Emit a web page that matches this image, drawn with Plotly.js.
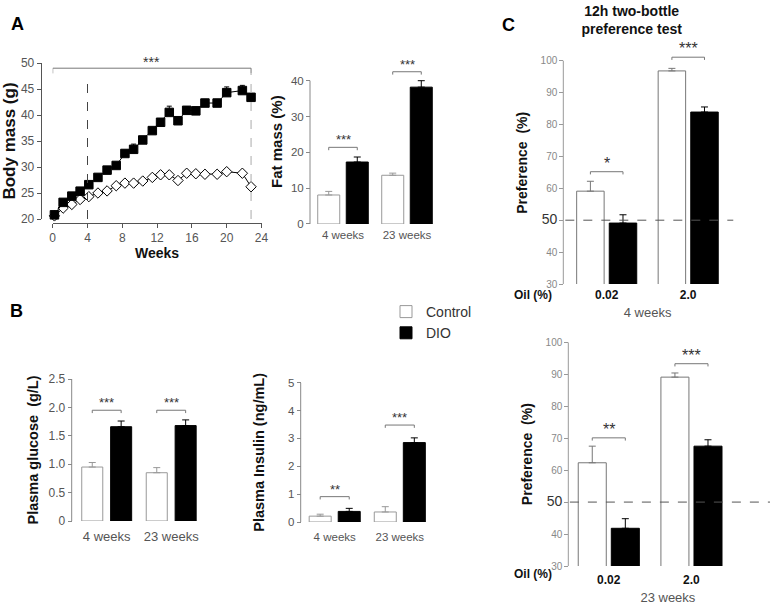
<!DOCTYPE html>
<html><head><meta charset="utf-8">
<script src="https://cdn.plot.ly/plotly-3.0.1.min.js"></script>
<style>html,body{margin:0;padding:0;background:#fff}</style>
</head><body><div id="chart" style="width:770px;height:605px"></div>
<script>
const W = 770, H = 605;
const FONT = 'Liberation Sans, Arial, Helvetica, sans-serif';

// ---------- Panel A: body mass time course ----------
const weeks = [0.2, 1.2, 2.2, 3.15, 4.15, 5.2, 6.25, 7.3, 8.3, 9.3, 10.35, 11.45, 12.4, 13.4, 14.4, 15.4, 16.45, 17.5, 18.9, 20.0, 21.8, 22.8];
const bodyControl = [20.6, 22.1, 22.8, 23.75, 24.3, 25.0, 25.4, 26.4, 26.9, 26.9, 27.3, 28.0, 28.5, 28.5, 27.4, 28.8, 28.7, 28.6, 28.6, 29.1, 28.8, 26.2];
const bodyControlErr = [0.3, 0.3, 0.3, 0.3, 0.3, 0.3, 0.3, 0.3, 0.3, 0.3, 0.3, 0.3, 0.3, 0.3, 0.3, 0.3, 0.3, 0.3, 0.3, 0.3, 0.3, 0.3];
const bodyDIO = [20.8, 23.2, 24.4, 25.35, 26.6, 28.0, 29.4, 30.3, 32.6, 33.4, 35.2, 37.0, 38.6, 40.5, 38.9, 40.9, 40.8, 42.3, 42.3, 44.3, 44.7, 43.4];
const bodyDIOErr = [0.3, 0.4, 0.4, 0.4, 0.4, 0.4, 0.5, 0.5, 0.6, 1.0, 0.6, 0.6, 0.6, 1.2, 0.7, 0.7, 0.7, 0.7, 0.7, 1.1, 1.0, 0.7];
const bodyTicksX = [0, 4, 8, 12, 16, 20, 24];
const bodyTicksY = [20, 25, 30, 35, 40, 45, 50];
const bodySigSpan = [0, 22.8];
const bodySigY = 49.0;
const bodySigLabel = '***';
const markerWeeks = [4, 22.8];
const markerTops = [46.7, 48.0];

// ---------- Panel A: fat mass ----------
const ageGroups = ['4 weeks', '23 weeks'];
const fatControl = [8.1, 13.6];
const fatControlErr = [1.0, 0.6];
const fatDIO = [17.3, 38.2];
const fatDIOErr = [1.4, 1.8];
const fatSigY = [21.4, 42.5];
const fatSigLabels = ['***', '***'];
const fatTicks = [0, 10, 20, 30, 40];

// ---------- Panel B: plasma glucose ----------
const glucoseControl = [0.95, 0.85];
const glucoseControlErr = [0.08, 0.09];
const glucoseDIO = [1.66, 1.68];
const glucoseDIOErr = [0.10, 0.10];
const glucoseSigY = [1.95, 1.95];
const glucoseSigLabels = ['***', '***'];
const glucoseTicks = [0, 0.5, 1.0, 1.5, 2.0, 2.5];
const glucoseTickText = ['0', '0.5', '1.0', '1.5', '2.0', '2.5'];

// ---------- Panel B: plasma insulin ----------
const insulinControl = [0.21, 0.36];
const insulinControlErr = [0.07, 0.19];
const insulinDIO = [0.38, 2.85];
const insulinDIOErr = [0.11, 0.17];
const insulinSigY = [0.91, 3.48];
const insulinSigLabels = ['**', '***'];
const insulinTicks = [0, 1, 2, 3, 4, 5];

// ---------- Panel C: preference tests ----------
const oilGroups = ['0.02', '2.0'];
const pref4Control = [59.1, 96.8];
const pref4ControlErr = [3.1, 0.8];
const pref4DIO = [49.1, 83.9];
const pref4DIOErr = [2.6, 1.6];
const pref4SigY = [65.2, 101.1];
const pref4SigLabels = ['*', '***'];
const pref23Control = [62.3, 89.1];
const pref23ControlErr = [5.2, 1.3];
const pref23DIO = [41.8, 67.5];
const pref23DIOErr = [3.0, 2.0];
const pref23SigY = [70.1, 93.3];
const pref23SigLabels = ['**', '***'];
const prefTicks = [30, 40, 50, 60, 70, 80, 90, 100];
const prefTickText = prefTicks.map(v => v === 50 ? '<span style="font-size:14px;color:#333">50</span>' : String(v));

// ---------- helpers (layout geometry) ----------
function xDomain(c0px, c1px, range) {
  const s = c1px - c0px;
  return [(c0px + range[0] * s) / W, (c0px + range[1] * s) / W];
}
function yDomain(v0, py0, v1, py1, range) {
  const s = (py0 - py1) / (v1 - v0);
  const pyLo = py0 - (range[0] - v0) * s;
  const pyHi = py0 - (range[1] - v0) * s;
  return [1 - pyLo / H, 1 - pyHi / H];
}

const data = [];
const shapes = [];
const annotations = [];
const layout = {
  width: W, height: H,
  margin: {l: 0, r: 0, t: 0, b: 0},
  paper_bgcolor: '#fff', plot_bgcolor: 'rgba(0,0,0,0)',
  font: {family: FONT, color: '#222'},
  barmode: 'overlay',
  hovermode: false,
  showlegend: true,
  legend: {x: 386 / W, y: 1 - 296 / H, xanchor: 'left', yanchor: 'top',
           font: {family: FONT, size: 14, color: '#333'}, bgcolor: 'rgba(0,0,0,0)',
           traceorder: 'normal', itemwidth: 30},
  title: {text: '<b>12h two-bottle<br>preference test</b>', x: 631.7 / W, xanchor: 'center', xref: 'paper',
          y: 1 - 16 / H, yref: 'container', yanchor: 'middle',
          font: {family: FONT, size: 14, color: '#111'}},
  shapes: shapes,
  annotations: annotations
};

function barPanel(n, cats, ctrl, ctrlErr, dio, dioErr, sigY, sigLabels, cfg) {
  const xs = cats.map((_, i) => i);
  const xa = 'x' + n, ya = 'y' + n;
  data.push({
    type: 'bar', name: 'Control', legendgroup: 'ctrl', showlegend: !!cfg.legend,
    x: xs, y: ctrl, width: cfg.w, offset: -cfg.off - cfg.w / 2,
    marker: {color: '#fff', line: {color: cfg.ctrlLine, width: 1}},
    error_y: {type: 'data', array: ctrlErr, arrayminus: ctrl.map(() => 0), symmetric: false,
              color: cfg.ctrlLine, thickness: 1, width: 3.5},
    xaxis: xa, yaxis: ya
  });
  data.push({
    type: 'bar', name: 'DIO', legendgroup: 'dio', showlegend: !!cfg.legend,
    x: xs, y: dio, width: cfg.w, offset: cfg.off - cfg.w / 2,
    marker: {color: '#000', line: {color: '#000', width: 1}},
    error_y: {type: 'data', array: dioErr, arrayminus: dio.map(() => 0), symmetric: false,
              color: '#000', thickness: 1, width: 3.5},
    xaxis: xa, yaxis: ya
  });
  xs.forEach((x, i) => {
    const a = x - cfg.off, b = x + cfg.off, h = sigY[i];
    data.push({
      type: 'scatter', mode: 'lines', showlegend: false, hoverinfo: 'skip',
      x: [a, a, b, b], y: [h - cfg.drop, h, h, h - cfg.drop],
      line: {color: '#777', width: 1}, xaxis: xa, yaxis: ya
    });
    annotations.push({
      xref: xa, yref: ya, x: x, y: h, yanchor: 'bottom', yshift: -2, showarrow: false,
      text: sigLabels[i], font: {family: FONT, size: cfg.starSize, color: '#333'}
    });
  });
  const yr = cfg.yr;
  layout['xaxis' + n] = {
    domain: xDomain(cfg.c0, cfg.c1, cfg.xr), range: cfg.xr, anchor: ya,
    tickvals: xs, ticktext: cats, showline: false, ticks: '', showgrid: false, zeroline: false,
    tickfont: cfg.xtickfont, ticklabelstandoff: cfg.xstand,
    title: cfg.xtitle ? {text: cfg.xtitle, font: {family: FONT, size: 13, color: '#555'}, standoff: 6} : {text: ''}
  };
  layout['yaxis' + n] = {
    domain: yDomain(cfg.v0, cfg.py0, cfg.v1, cfg.py1, yr), range: yr,
    anchor: 'free', position: cfg.axisPx / W,
    showline: false, ticks: 'outside', ticklen: 4, tickcolor: cfg.axisColor, tickwidth: 1,
    tickvals: cfg.tickvals, ticktext: cfg.ticktext, tickfont: cfg.ytickfont,
    showgrid: false, zeroline: false, automargin: false,
    title: {text: cfg.ytitle, font: {family: FONT, size: cfg.ytitleSize, color: '#111', weight: 'bold'}, standoff: cfg.ystand}
  };
  shapes.push({type: 'line', xref: 'paper', x0: cfg.axisPx / W, x1: cfg.axisPx / W,
               yref: ya, y0: cfg.tickvals[0], y1: cfg.tickvals[cfg.tickvals.length - 1],
               line: {color: cfg.axisColor, width: 1}});
}

// ---------- Panel A line chart ----------
data.push({
  type: 'scatter', mode: 'lines+markers', name: 'Control', showlegend: false, cliponaxis: false,
  x: weeks, y: bodyControl,
  line: {color: '#000', width: 1},
  marker: {symbol: 'diamond', size: 8, color: '#fff', line: {color: '#000', width: 1}},
  error_y: {type: 'data', array: bodyControlErr, arrayminus: bodyControl.map(() => 0), symmetric: false, color: '#000', thickness: 1, width: 2.5},
  xaxis: 'x', yaxis: 'y'
});
data.push({
  type: 'scatter', mode: 'lines+markers', name: 'DIO', showlegend: false, cliponaxis: false,
  x: weeks, y: bodyDIO,
  line: {color: '#000', width: 1},
  marker: {symbol: 'square', size: 8.5, color: '#000', line: {color: '#000', width: 1}},
  error_y: {type: 'data', array: bodyDIOErr, arrayminus: bodyDIO.map(() => 0), symmetric: false, color: '#000', thickness: 1, width: 2.5},
  xaxis: 'x', yaxis: 'y'
});
data.push({
  type: 'scatter', mode: 'lines', showlegend: false, hoverinfo: 'skip',
  x: [bodySigSpan[0], bodySigSpan[0], bodySigSpan[1], bodySigSpan[1]],
  y: [bodySigY - 1, bodySigY, bodySigY, bodySigY - 1],
  line: {color: '#777', width: 1}, xaxis: 'x', yaxis: 'y'
});
annotations.push({xref: 'x', yref: 'y', x: (bodySigSpan[0] + bodySigSpan[1]) / 2, y: bodySigY,
  yanchor: 'bottom', yshift: -4, showarrow: false, text: bodySigLabel,
  font: {family: FONT, size: 14, color: '#333'}});
markerWeeks.forEach((wk, i) => {
  shapes.push({type: 'line', xref: 'x', yref: 'y', x0: wk, x1: wk, y0: 20, y1: markerTops[i],
    line: {color: i === 0 ? '#444' : '#aaa', width: 1, dash: 'dash'}});
});
layout.xaxis = {
  domain: [52.7 / W, (52.7 + 24 * 8.7) / W], range: [0, 24], anchor: 'free', position: 1 - 222.7 / H,
  showline: true, linecolor: '#555', linewidth: 1, ticks: 'outside', ticklen: 4, tickcolor: '#555',
  tickvals: bodyTicksX, showgrid: false, zeroline: false,
  tickfont: {family: FONT, size: 12, color: '#555'},
  title: {text: 'Weeks', font: {family: FONT, size: 14, color: '#111', weight: 'bold'}, standoff: 1}
};
layout.yaxis = {
  domain: [1 - 219 / H, 1 - 63 / H], range: [20, 50], anchor: 'free', position: 40.7 / W,
  showline: true, linecolor: '#555', linewidth: 1, ticks: 'outside', ticklen: 4, tickcolor: '#555',
  tickvals: bodyTicksY, showgrid: false, zeroline: false, automargin: false,
  tickfont: {family: FONT, size: 12, color: '#555'},
  title: {text: 'Body mass (g)', font: {family: FONT, size: 17, color: '#111', weight: 'bold'}, standoff: 0}
};

// ---------- bar panels ----------
barPanel(2, ageGroups, fatControl, fatControlErr, fatDIO, fatDIOErr, fatSigY, fatSigLabels, {
  legend: true, c0: 343, c1: 407, xr: [-0.55, 1.45], w: 0.344, off: 0.223,
  v0: 0, py0: 224, v1: 40, py1: 80.7, yr: [0, 46], axisPx: 310, axisColor: '#888',
  tickvals: fatTicks, ticktext: fatTicks.map(String), drop: 0.8, starSize: 13, ctrlLine: '#999',
  ytickfont: {family: FONT, size: 11.5, color: '#555'}, xtickfont: {family: FONT, size: 11.5, color: '#555'},
  xstand: 2, ytitle: 'Fat mass (%)', ytitleSize: 15, ystand: 3
});
barPanel(3, ageGroups, glucoseControl, glucoseControlErr, glucoseDIO, glucoseDIOErr, glucoseSigY, glucoseSigLabels, {
  c0: 106.7, c1: 171.2, xr: [-0.6, 1.5], w: 0.326, off: 0.224,
  v0: 0, py0: 521, v1: 2.5, py1: 379, yr: [0, 2.5], axisPx: 71.7, axisColor: '#888',
  tickvals: glucoseTicks, ticktext: glucoseTickText, drop: 0.05, starSize: 13, ctrlLine: '#999',
  ytickfont: {family: FONT, size: 12, color: '#555'}, xtickfont: {family: FONT, size: 13, color: '#555'},
  xstand: 6, ytitle: 'Plasma glucose\u00a0 (g/L)', ytitleSize: 14.5, ystand: 5
});
barPanel(4, ageGroups, insulinControl, insulinControlErr, insulinDIO, insulinDIOErr, insulinSigY, insulinSigLabels, {
  c0: 334.7, c1: 399.8, xr: [-0.6, 1.5], w: 0.338, off: 0.223,
  v0: 0, py0: 522, v1: 5, py1: 382.7, yr: [0, 5], axisPx: 300.7, axisColor: '#888',
  tickvals: insulinTicks, ticktext: insulinTicks.map(String), drop: 0.1, starSize: 13, ctrlLine: '#999',
  ytickfont: {family: FONT, size: 11.5, color: '#555'}, xtickfont: {family: FONT, size: 11.5, color: '#555'},
  xstand: 6, ytitle: 'Plasma Insulin (ng/mL)', ytitleSize: 14.5, ystand: 18
});
barPanel(5, oilGroups, pref4Control, pref4ControlErr, pref4DIO, pref4DIOErr, pref4SigY, pref4SigLabels, {
  c0: 606.7, c1: 688.2, xr: [-0.55, 1.553], w: 0.337, off: 0.2,
  v0: 30, py0: 284, v1: 100, py1: 60.7, yr: [30, 106], axisPx: 563.3, axisColor: '#999',
  tickvals: prefTicks, ticktext: prefTickText, drop: 0.85, starSize: 16, ctrlLine: '#777',
  ytickfont: {family: FONT, size: 10, color: '#888'}, xtickfont: {family: FONT, size: 12, color: '#111', weight: 'bold'},
  xstand: 2, xtitle: '4 weeks', ytitle: 'Preference\u00a0 (%)', ytitleSize: 14, ystand: 8
});
barPanel(6, oilGroups, pref23Control, pref23ControlErr, pref23DIO, pref23DIOErr, pref23SigY, pref23SigLabels, {
  c0: 608.8, c1: 691.5, xr: [-0.52, 1.95], w: 0.339, off: 0.2,
  v0: 30, py0: 566, v1: 100, py1: 342.3, yr: [30, 100], axisPx: 568.3, axisColor: '#999',
  tickvals: prefTicks, ticktext: prefTickText, drop: 0.85, starSize: 16, ctrlLine: '#777',
  ytickfont: {family: FONT, size: 10, color: '#888'}, xtickfont: {family: FONT, size: 12, color: '#111', weight: 'bold'},
  xstand: 5, xtitle: '23 weeks', ytitle: 'Preference\u00a0 (%)', ytitleSize: 14, ystand: 8
});

// 50% chance lines in panel C
[5, 6].forEach(n => {
  shapes.push({type: 'line', xref: 'x' + n + ' domain', x0: 0.02, x1: 1, yref: 'y' + n, y0: 50, y1: 50,
    line: {color: '#555', width: 1, dash: 'dash'}});
});

// "Oil (%)" row labels
annotations.push({xref: 'paper', yref: 'paper', x: 553 / W, y: 1 - 295 / H, showarrow: false, borderpad: 0,
  text: '<b>Oil (%)</b>', font: {family: FONT, size: 12, color: '#111'}});
annotations.push({xref: 'paper', yref: 'paper', x: 553 / W, y: 1 - 582 / H, showarrow: false, borderpad: 0,
  text: '<b>Oil (%)</b>', font: {family: FONT, size: 12, color: '#111'}});

// panel letters
[['A', 9, 12], ['B', 8, 311], ['C', 517, 13]].forEach(([t, px, py]) => {
  annotations.push({xref: 'paper', yref: 'paper', x: px / W, y: 1 - py / H, showarrow: false,
    text: '<b>' + t + '</b>', font: {family: FONT, size: 18, color: '#000'}});
});

Plotly.newPlot('chart', data, layout, {staticPlot: true, displayModeBar: false});
</script>
</body></html>
